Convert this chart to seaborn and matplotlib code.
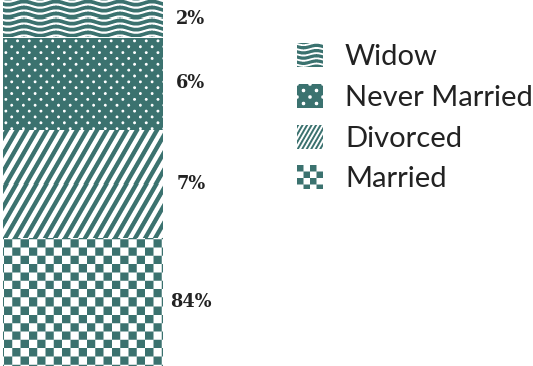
import numpy as np
import pandas as pd
import matplotlib
matplotlib.use("Agg")
import matplotlib.pyplot as plt
import seaborn as sns
from matplotlib.patches import Patch

# Marital status shares (percent), bottom of the stack first
statuses = ["Married", "Divorced", "Never Married", "Widow"]
shares = [84.4, 7.0, 6.0, 2.4]
legend_order = ["Widow", "Never Married", "Divorced", "Married"]

TEAL = np.array([0x3b, 0x72, 0x6f]) / 255.0
WHITE = np.ones(3)
TEXT = "#222222"

sns.set_style("white")
plt.rcParams["font.family"] = ["Lato", "DejaVu Sans"]

W, H, DPI = 533, 366, 100
fig = plt.figure(figsize=(W / DPI, H / DPI), dpi=DPI)
ax = fig.add_axes([0, 0, 1, 1])

df = pd.DataFrame({"status": statuses, "share": shares})
df["top"] = df["share"].cumsum()
df["bottom"] = df["top"] - df["share"]
df["group"] = "all"

# Stacked bar: draw cumulative bars tallest first so shorter ones sit on top
for i in reversed(range(len(df))):
    sns.barplot(data=df.iloc[[i]], x="group", y="top", color="white",
                saturation=1, width=0.8, linewidth=0, ax=ax, zorder=2)

y_top = df["top"].max()
y_low = 76.1
ax.set_xlim(-0.415, 2.25)
ax.set_ylim(y_low, y_top)
ax.axis("off")


# ---- fill patterns, evaluated in figure pixels (y pointing down) ----
def waves(X, Y, period=6.0, wavelength=32.0, amp=1.6, white=2.2):
    v = (Y - amp * np.sin(2 * np.pi * X / wavelength)) % period
    return v >= white


def dots(X, Y, dx=11.7, dy=5.85, r=1.45):
    row = np.floor(Y / dy + 0.5)
    cy = row * dy
    shift = (row % 2) * dx / 2
    cx = np.round((X - shift) / dx) * dx + shift
    return (X - cx) ** 2 + (Y - cy) ** 2 > r * r


def stripes(X, Y, hp=10.0, ang=60.0, frac=0.5):
    a = np.deg2rad(ang)
    u = X * np.sin(a) + Y * np.cos(a)
    p = hp * np.sin(a)
    return (u % p) < p * frac


def checker(X, Y, c=8.3, ox=4.0, oy=240.0):
    return ((np.floor((X - ox) / c) + np.floor((Y - oy) / c)) % 2) == 0


def render(fn, left, top, w, h, ss=4, **kw):
    off = (np.arange(ss) + 0.5) / ss
    xs = left + (np.arange(w)[:, None] + off[None, :]).ravel()
    ys = top + (np.arange(h)[:, None] + off[None, :]).ravel()
    X, Y = np.meshgrid(xs, ys)
    cov = fn(X, Y, **kw).astype(float).reshape(h, ss, w, ss).mean(axis=(1, 3))
    return WHITE * (1 - cov[..., None]) + TEAL * cov[..., None]


bar_patterns = {
    "Married": (checker, {}),
    "Divorced": (stripes, {}),
    "Never Married": (dots, {}),
    "Widow": (waves, {}),
}
legend_patterns = {
    "Married": (checker, dict(c=6.5, ox=0, oy=0)),
    "Divorced": (stripes, dict(hp=4.5)),
    "Never Married": (dots, dict(dx=13.0, dy=6.5, r=1.8)),
    "Widow": (waves, dict(period=5.2, wavelength=26.0, amp=1.2, white=1.9)),
}

bar_x0, bar_x1 = -0.4, 0.4
px_per_unit = ax.transData.transform([[0, 1]])[0][1] - ax.transData.transform([[0, 0]])[0][1]
gap = 1.0 / px_per_unit

for _, row in df.iterrows():
    yb = max(row["bottom"], y_low)
    yt = min(row["top"], y_top)
    if row["top"] < y_top:
        yt -= gap
    (dx0, dy0), (dx1, dy1) = ax.transData.transform([[bar_x0, yb], [bar_x1, yt]])
    w = int(round(dx1 - dx0))
    h = int(round(dy1 - dy0))
    fn, kw = bar_patterns[row["status"]]
    img = render(fn, dx0, H - dy1, w, h, **kw)
    ax.imshow(img, extent=(bar_x0, bar_x1, yb, yt), aspect="auto",
              interpolation="nearest", zorder=3)

    # value label beside the visible part of the segment
    mid = (max(row["bottom"], y_low) + min(row["top"], y_top)) / 2
    ax.annotate(f"{row['share']:.0f}%", xy=(bar_x1, mid), xytext=(20, 0),
                textcoords="offset points", ha="center", va="center",
                fontsize=12.8, fontweight="bold", family="DejaVu Serif",
                color=TEXT, zorder=4)

ax.set_xlim(-0.415, 2.25)
ax.set_ylim(y_low, y_top)

fs = 21
fs_px = fs * DPI / 72
handles = [Patch(facecolor="white", edgecolor="none", label=s) for s in legend_order]
leg = ax.legend(handles=handles, loc="upper left",
                bbox_to_anchor=(297 / W, 1 - 43 / H), bbox_transform=fig.transFigure,
                frameon=False, fontsize=fs, handlelength=26 / fs_px,
                handleheight=26 / fs_px, handletextpad=0.75,
                labelspacing=0.47, borderpad=0, borderaxespad=0)
for t in leg.get_texts():
    t.set_color(TEXT)

fig.canvas.draw()
renderer = fig.canvas.get_renderer()
for hnd, name in zip(leg.legend_handles, legend_order):
    bb = hnd.get_window_extent(renderer)
    xo, yo = int(round(bb.x0)), int(round(bb.y0))
    w, h = int(round(bb.width)), int(round(bb.height))
    fn, kw = legend_patterns[name]
    img = render(fn, 0.0, 0.0, w, h, **kw)
    fig.figimage(img, xo=xo, yo=yo, origin="upper", zorder=5)

fig.savefig("out.png", dpi=DPI, facecolor="white")
